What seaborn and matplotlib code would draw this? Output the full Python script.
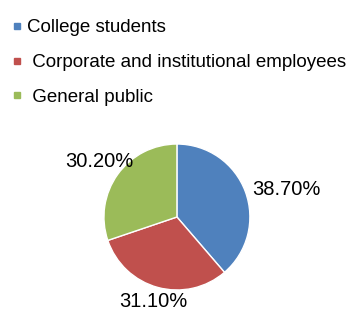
import numpy as np
import matplotlib
matplotlib.use("Agg")
import matplotlib.pyplot as plt
from matplotlib.lines import Line2D
import seaborn as sns

# data
groups = ["College students", " Corporate and institutional employees", " General public"]
shares = [38.70, 31.10, 30.20]
colors = ["#4F81BD", "#C0504D", "#9BBB59"]

sns.set_theme(style="white")
plt.rcParams["font.family"] = ["Liberation Sans", "DejaVu Sans"]

fig = plt.figure(figsize=(3.5, 3.12), dpi=100)
fig.patch.set_facecolor("white")

ax = fig.add_axes([0.297, 0.0705, 0.417, 0.468])
wedges, _ = ax.pie(shares, colors=colors, startangle=90, counterclock=False,
                   wedgeprops={"edgecolor": "white", "linewidth": 1.0})
ax.set_xlim(-1, 1)
ax.set_ylim(-1, 1)
ax.set_aspect("equal")

# percentage labels outside the wedges
label_dist = [1.1, 1.2, 1.3]
label_ha = ["left", "center", "center"]
for w, v, d, ha in zip(wedges, shares, label_dist, label_ha):
    ang = np.deg2rad((w.theta1 + w.theta2) / 2)
    ax.text(d * np.cos(ang), d * np.sin(ang), f"{v:.2f}%", ha=ha, va="center",
            fontsize=14.5, color="black", clip_on=False)

handles = [Line2D([0], [0], marker="s", linestyle="", markersize=4.5,
                  markerfacecolor=c, markeredgecolor=c) for c in colors]
fig.legend(handles, groups, loc="upper left", bbox_to_anchor=(0.015, 0.963),
           frameon=False, fontsize=13.5, labelcolor="black", handlelength=0.5,
           handletextpad=0.25, labelspacing=0.95, borderaxespad=0)

fig.savefig("out.png", dpi=100, facecolor="white")
